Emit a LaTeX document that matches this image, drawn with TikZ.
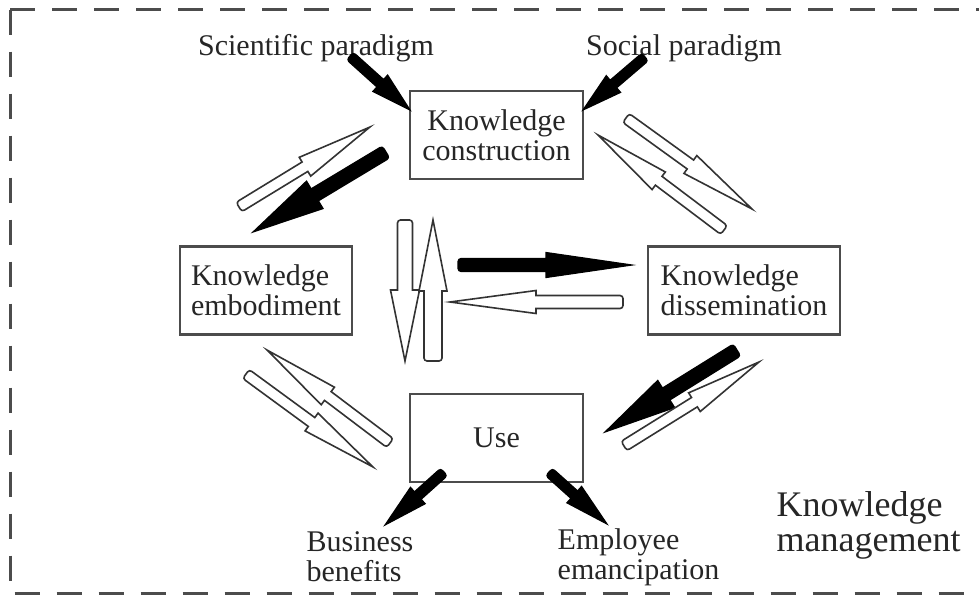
\documentclass[tikz,border=0pt]{standalone}
\usepackage{fontspec}
\setmainfont{Liberation Serif}
\usetikzlibrary{calc}

% fat arrow: style, tail, tip, shaft half width, head half width, head length (pt)
\newcommand\blockarrow[6]{%
  \draw[#1] let \p1 = (#2), \p2 = (#3),
      \n1 = {atan2(\y2-\y1,\x2-\x1)}, \n2 = {veclen(\x2-\x1,\y2-\y1)} in
    {[shift={(\p1)}, rotate=\n1]
      (\n2,0pt) -- (\n2-#6pt,#5pt) -- (\n2-#6pt,#4pt)
      [rounded corners=1.5pt] -- (0pt,#4pt) -- (0pt,-#4pt) [sharp corners]
      -- (\n2-#6pt,-#4pt) -- (\n2-#6pt,-#5pt) -- cycle};
}

\begin{document}
\begin{tikzpicture}[x=0.5pt, y=-0.5pt,
  box/.style         = {draw=black!70, line width=1.2pt, minimum height=44pt,
                        align=center, inner sep=0pt, text=black!85,
                        font=\fontsize{15}{15}\selectfont},
  lbl/.style         = {align=left, inner sep=0pt, text=black!85,
                        font=\fontsize{15}{15}\selectfont},
  solidarrow/.style  = {fill=black, draw=black, line width=0.6pt},
  hollowarrow/.style = {fill=white, draw=black!80, line width=0.8pt},
  outerframe/.style  = {draw=black!70, line width=1.5pt,
                        dash pattern=on 12.5pt off 8.5pt}
]
  \useasboundingbox (0,0) rectangle (979,595);

  %% dashed frame (open on the right)
  \draw[outerframe] (10,9.5) -- (979,9.5);
  \draw[outerframe] (10,9.5) -- (10,593) -- (979,593);

  %% boxes
  \node[box, minimum width=86.5pt] (KC) at (496.5,135) {Knowledge\\construction};
  \node[box, minimum width=86pt, align=left] (KE) at (266,290.5) {Knowledge\\embodiment};
  \node[box, minimum width=96pt, align=left] (KD) at (744,290.5) {Knowledge\\dissemination};
  \node[box, minimum width=86.5pt] (U) at (496.5,438) {Use};

  %% free labels
  \node[lbl] (SP)  at (316,48)    {Scientific paradigm};
  \node[lbl] (SoP) at (684,48)    {Social paradigm};
  \node[lbl] (BB)  at (360,557)   {Business\\benefits};
  \node[lbl] (EE)  at (638.5,557) {Employee\\emancipation};
  \node[lbl, font=\fontsize{18}{17.5}\selectfont] (KM) at (868.5,525) {Knowledge\\management};

  %% arrow ends
  \coordinate (sci-t) at (350,56);  \coordinate (sci-h) at (410,110);
  \coordinate (soc-t) at (645,57);  \coordinate (soc-h) at (583,110);
  \coordinate (ce-t)  at (386,152); \coordinate (ce-h)  at (253,232);
  \coordinate (ec-t)  at (239,207); \coordinate (ec-h)  at (370,127);
  \coordinate (cd-t)  at (626,118); \coordinate (cd-h)  at (752,209);
  \coordinate (dc-t)  at (724,230); \coordinate (dc-h)  at (598,135);
  \coordinate (dn-t)  at (405,220); \coordinate (dn-h)  at (405,361);
  \coordinate (up-t)  at (433,361); \coordinate (up-h)  at (433,220);
  \coordinate (rt-t)  at (458,265); \coordinate (rt-h)  at (632,265);
  \coordinate (lt-t)  at (623,302); \coordinate (lt-h)  at (450,302);
  \coordinate (ue-t)  at (390,443); \coordinate (ue-h)  at (267,350);
  \coordinate (eu-t)  at (246,374); \coordinate (eu-h)  at (373,467);
  \coordinate (du-t)  at (737,350); \coordinate (du-h)  at (605,432);
  \coordinate (ud-t)  at (624,446); \coordinate (ud-h)  at (759,362);
  \coordinate (ub-t)  at (444,472); \coordinate (ub-h)  at (385,525);
  \coordinate (uem-t) at (549,472); \coordinate (uem-h) at (607,524);

  %% paradigms -> construction
  \blockarrow{solidarrow}{sci-t}{sci-h}{2.5}{5.5}{20}
  \blockarrow{solidarrow}{soc-t}{soc-h}{2.5}{5.5}{20}

  %% construction <-> embodiment
  \blockarrow{solidarrow}{ce-t}{ce-h}{3.5}{8}{36}
  \blockarrow{hollowarrow}{ec-t}{ec-h}{2.75}{5.5}{38}

  %% construction <-> dissemination
  \blockarrow{hollowarrow}{cd-t}{cd-h}{2.75}{5.5}{38}
  \blockarrow{hollowarrow}{dc-t}{dc-h}{2.75}{5.5}{38}

  %% centre
  \blockarrow{hollowarrow}{dn-t}{dn-h}{3.75}{7.25}{35.5}
  \blockarrow{hollowarrow}{up-t}{up-h}{4.5}{7}{35.5}
  \blockarrow{solidarrow}{rt-t}{rt-h}{3.25}{6.25}{43}
  \blockarrow{hollowarrow}{lt-t}{lt-h}{3.25}{5.75}{43}

  %% embodiment <-> use
  \blockarrow{hollowarrow}{ue-t}{ue-h}{2.75}{5.5}{38}
  \blockarrow{hollowarrow}{eu-t}{eu-h}{2.75}{5.5}{38}

  %% dissemination <-> use
  \blockarrow{solidarrow}{du-t}{du-h}{3.5}{8}{36}
  \blockarrow{hollowarrow}{ud-t}{ud-h}{2.75}{5.5}{38}

  %% use -> outcomes
  \blockarrow{solidarrow}{ub-t}{ub-h}{2.5}{5.5}{22}
  \blockarrow{solidarrow}{uem-t}{uem-h}{2.5}{5.5}{22}
\end{tikzpicture}
\end{document}
